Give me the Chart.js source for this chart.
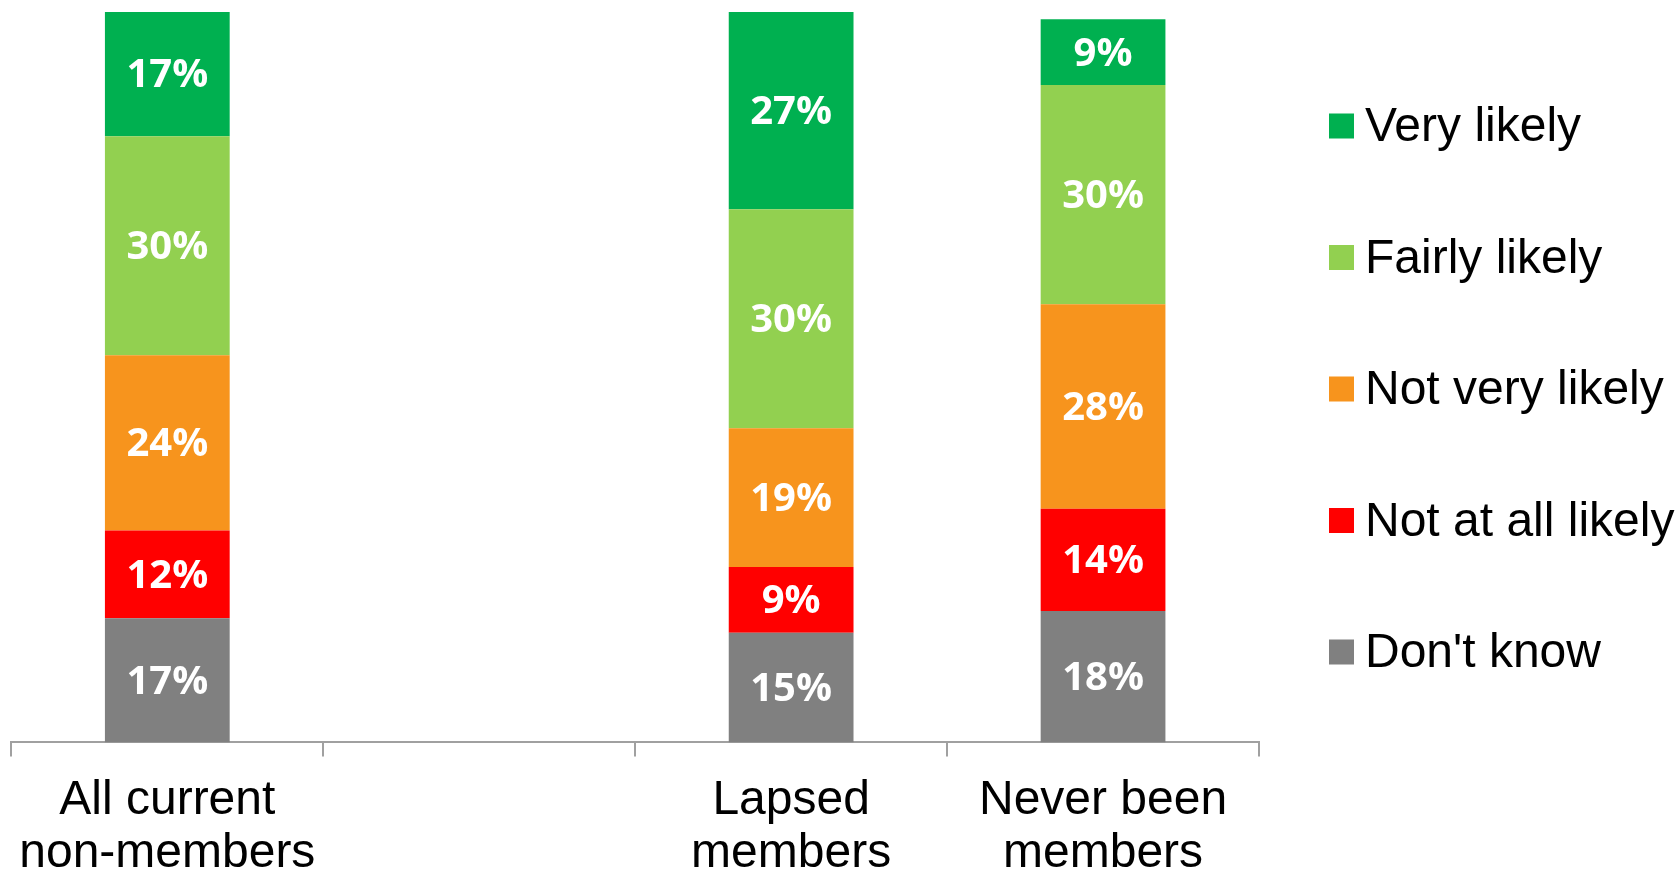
<!DOCTYPE html>
<html>
<head>
<meta charset="utf-8">
<script src="https://cdn.jsdelivr.net/npm/chart.js@4.4.1/dist/chart.umd.min.js"></script>
<style>
  html, body { margin: 0; padding: 0; background: #fff; }
  #wrap { width: 1676px; height: 876px; }
</style>
</head>
<body>
<div id="wrap"><canvas id="likelihoodChart" width="1676" height="876"></canvas></div>
<script>
// groups along the x axis (the second slot is left empty on purpose)
const groups = [['All current', 'non-members'], '', ['Lapsed', 'members'], ['Never been', 'members']];

// answers, bottom of the stack first
const answers = ["Don't know", 'Not at all likely', 'Not very likely', 'Fairly likely', 'Very likely'];
const answerColors = ['#808080', '#FF0000', '#F7941D', '#92D050', '#00B050'];

// percentages per group
const dontKnow = [17, null, 15, 18];
const notAtAll = [12, null, 9, 14];
const notVery  = [24, null, 19, 28];
const fairly   = [30, null, 30, 30];
const very     = [17, null, 27, 9];

const seriesValues = [dontKnow, notAtAll, notVery, fairly, very];

// writes the percentage in the middle of each segment
const segmentLabels = {
    id: 'segmentLabels',
    afterDatasetsDraw(chart) {
        const ctx = chart.ctx;
        ctx.save();
        ctx.fillStyle = '#ffffff';
        ctx.font = 'bold 40px "Open Sans"';
        ctx.textAlign = 'center';
        ctx.textBaseline = 'middle';
        chart.data.datasets.forEach((ds, i) => {
            const meta = chart.getDatasetMeta(i);
            meta.data.forEach((bar, j) => {
                const v = ds.data[j];
                if (v === null || v === undefined) return;
                const p = bar.getCenterPoint();
                ctx.fillText(v + '%', p.x, p.y + 2);
            });
        });
        ctx.restore();
    }
};

// legend on the right, top answer first
const sideLegend = {
    id: 'sideLegend',
    afterDraw(chart) {
        const ctx = chart.ctx;
        const left = 1329, top = 126, step = 131.5, box = 25;
        ctx.save();
        ctx.font = '48px "Liberation Sans", Arial, sans-serif';
        ctx.textBaseline = 'middle';
        ctx.textAlign = 'left';
        const items = chart.data.datasets.slice().reverse();
        items.forEach((ds, k) => {
            const y = top + k * step;
            ctx.fillStyle = ds.backgroundColor;
            ctx.fillRect(left, y - box / 2, box, box);
            ctx.fillStyle = '#000000';
            ctx.fillText(ds.label, left + box + 11, y + 2);
        });
        ctx.restore();
    }
};

const ctx = document.getElementById('likelihoodChart').getContext('2d');
new Chart(ctx, {
    type: 'bar',
    data: {
        labels: groups,
        datasets: answers.map((name, i) => ({
            label: name,
            data: seriesValues[i],
            backgroundColor: answerColors[i],
            borderWidth: 0,
            categoryPercentage: 0.8,
            barPercentage: 0.5
        }))
    },
    options: {
        responsive: false,
        animation: false,
        layout: {
            // the second label line runs slightly past the bottom edge
            padding: { left: 10, top: 12, right: 417, bottom: -22 }
        },
        plugins: {
            legend: { display: false },
            tooltip: { enabled: false }
        },
        scales: {
            x: {
                stacked: true,
                border: { display: true, color: '#A0A0A0', width: 2 },
                grid: {
                    display: true,
                    offset: true,
                    drawOnChartArea: false,
                    drawTicks: true,
                    tickLength: 14,
                    color: '#A0A0A0',
                    lineWidth: 2
                },
                ticks: {
                    color: '#000000',
                    padding: 18,
                    font: { family: '"Liberation Sans", Arial, sans-serif', size: 48, lineHeight: 1.1 }
                }
            },
            y: {
                stacked: true,
                display: false,
                min: 0,
                max: 100
            }
        }
    },
    plugins: [segmentLabels, sideLegend]
});
</script>
</body>
</html>
